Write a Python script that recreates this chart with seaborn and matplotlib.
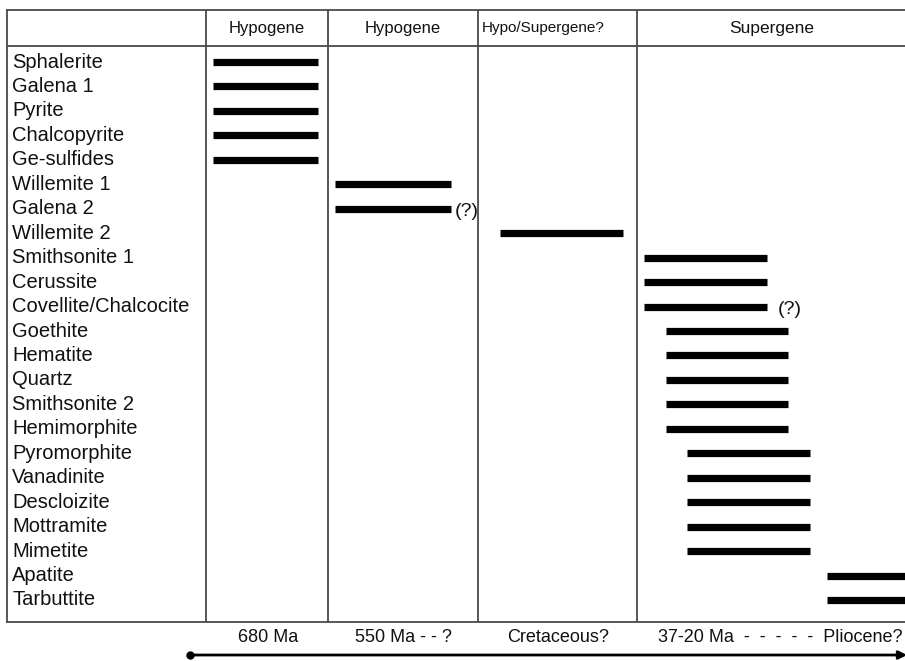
import matplotlib
matplotlib.use("Agg")
import matplotlib.pyplot as plt
import seaborn as sns
import pandas as pd

minerals = ["Sphalerite", "Galena 1", "Pyrite", "Chalcopyrite", "Ge-sulfides",
            "Willemite 1", "Galena 2", "Willemite 2", "Smithsonite 1", "Cerussite",
            "Covellite/Chalcocite", "Goethite", "Hematite", "Quartz", "Smithsonite 2",
            "Hemimorphite", "Pyromorphite", "Vanadinite", "Descloizite", "Mottramite",
            "Mimetite", "Apatite", "Tarbuttite"]
# relative time position (schematic units, left edge of table = 0)
start = [206, 206, 206, 206, 206,
         328, 328, 493, 637, 637,
         637, 659, 659, 659, 659,
         659, 680, 680, 680, 680,
         680, 820, 820]
end = [311, 311, 311, 311, 311,
       444, 444, 616, 760, 760,
       760, 781, 781, 781, 781,
       781, 803, 803, 803, 803,
       803, 900, 900]
uncertain = ["Galena 2", "Covellite/Chalcocite"]
uncertain_gap = [4, 11]

stage_bounds = [199, 321, 471, 630]
stage_names = ["Hypogene", "Hypogene", "Hypo/Supergene?", "Supergene"]
stage_label_x = [260, 396, 475, 765]
stage_label_ha = ["center", "center", "left", "center"]
stage_label_size = [12, 12, 11, 12.5]
age_labels = ["680 Ma", "550 Ma - - ?", "Cretaceous?", "37-20 Ma  -  -  -  -  -  Pliocene?"]
age_label_x = [261, 396, 551, 773]

rows = list(range(len(minerals)))
df = pd.DataFrame({
    "mineral": minerals * 2,
    "row": rows * 2,
    "x": start + end,
})

sns.set_theme(style="white")
plt.rcParams["font.family"] = ["Liberation Sans", "DejaVu Sans"]

fig = plt.figure(figsize=(9.05, 6.61), dpi=100)
ax = fig.add_axes([7 / 905, 1 - 622 / 661, 900 / 905, 612 / 661])

sns.lineplot(data=df, x="x", y="row", units="mineral", estimator=None, sort=False,
             color="black", linewidth=5.2, solid_capstyle="butt", ax=ax, legend=False)

ax.set_xlim(0, 900)
ax.set_ylim(22.90, -2.127)
ax.set_xlabel("")
ax.set_ylabel("")
ax.set_xticks([])
ax.set_yticks([])
for s in ax.spines.values():
    s.set_color("#4a4a4a")
    s.set_linewidth(1.3)
    s.set_visible(True)

for b in stage_bounds:
    ax.axvline(b, color="#4a4a4a", linewidth=1.3)
ax.axhline(-0.654, color="#4a4a4a", linewidth=1.3)

for name, xx, ha, fs in zip(stage_names, stage_label_x, stage_label_ha, stage_label_size):
    ax.text(xx, -1.39, name, ha=ha, va="center", fontsize=fs, color="#111111")

for r, m in zip(rows, minerals):
    ax.text(5, r, m, ha="left", va="center", fontsize=14.5, color="#111111")

for m, g in zip(uncertain, uncertain_gap):
    i = minerals.index(m)
    ax.text(end[i] + g, i + 0.12, "(?)", ha="left", va="center", fontsize=14, color="#111111")

for lab, xx in zip(age_labels, age_label_x):
    ax.text(xx, 23.52, lab, ha="center", va="center", fontsize=13, color="#111111",
            clip_on=False)

ax.annotate("", xy=(900, 24.25), xytext=(183, 24.25), annotation_clip=False,
            arrowprops=dict(arrowstyle="-|>", color="black", lw=2, mutation_scale=12,
                            shrinkA=0, shrinkB=0))
ax.plot([183], [24.25], marker="o", color="black", markersize=5, clip_on=False)

fig.savefig("out.png", dpi=100)
